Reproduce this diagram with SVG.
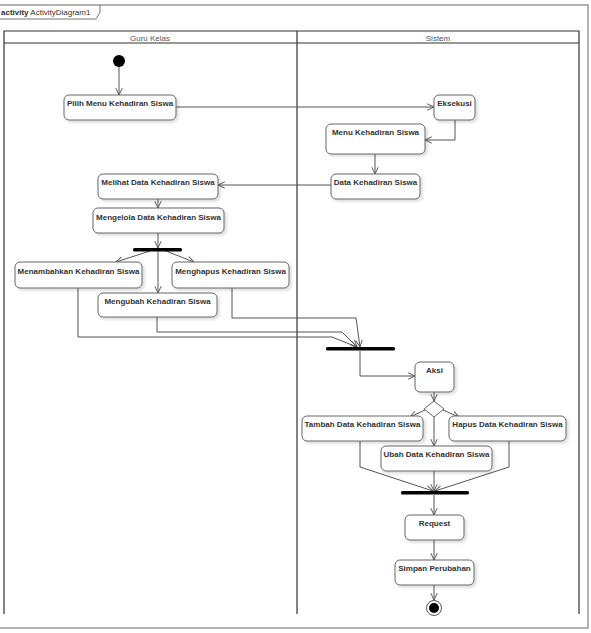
<svg xmlns="http://www.w3.org/2000/svg" width="591" height="633" viewBox="0 0 591 633">
<defs>
<marker id="arr" viewBox="0 0 10 10" refX="9.5" refY="5" markerWidth="8" markerHeight="8" markerUnits="userSpaceOnUse" orient="auto">
<path d="M1,1 L9.5,5 L1,9" fill="none" stroke="#555" stroke-width="1.2"/>
</marker>
<filter id="sh" x="-10%" y="-20%" width="130%" height="160%">
<feDropShadow dx="2" dy="2" stdDeviation="1.5" flood-color="#000" flood-opacity="0.15"/>
</filter>
</defs>
<style>
.box{fill:#fff;stroke:#666;stroke-width:1;filter:url(#sh)}
.lbl{font-family:"Liberation Sans",Arial,sans-serif;font-weight:bold;font-size:8px;fill:#333;text-anchor:middle}
.hdr{font-family:"Liberation Sans",Arial,sans-serif;font-size:8px;fill:#555;text-anchor:middle}
.con{fill:none;stroke:#555;stroke-width:1}
.lane{fill:none;stroke:#333;stroke-width:1.2}
.bar{fill:#000}
</style>
<rect x="0" y="0" width="591" height="633" fill="#fff"/>
<g id="frame">
<path d="M-1,5 H588 V628 H-1" fill="none" stroke="#999" stroke-width="1.5"/>
<path d="M-1,19 H96 L100,12 V5" fill="none" stroke="#777" stroke-width="1"/>
<text x="1" y="15" font-family="'Liberation Sans',Arial,sans-serif" font-size="8" fill="#333"><tspan font-weight="bold">activity</tspan> ActivityDiagram1</text>
</g>
<g id="lanes">
<path class="lane" d="M4,614 V31 H579 V614 M297,31 V614 M4,43 H579"/>
<text class="hdr" x="150" y="40.5">Guru Kelas</text>
<text class="hdr" x="438" y="40.5">Sistem</text>
</g>
<g id="connectors">
<path class="con" marker-end="url(#arr)" d="M119,67 V95"/>
<path class="con" marker-end="url(#arr)" d="M176,107 H434"/>
<path class="con" marker-end="url(#arr)" d="M455,120 V140 H425"/>
<path class="con" marker-end="url(#arr)" d="M375,154 V174"/>
<path class="con" marker-end="url(#arr)" d="M331,185 H218"/>
<path class="con" marker-end="url(#arr)" d="M158,199 V208"/>
<path class="con" marker-end="url(#arr)" d="M158,233 V248"/>
<path class="con" marker-end="url(#arr)" d="M150,251 L116,262"/>
<path class="con" marker-end="url(#arr)" d="M158,251 V293"/>
<path class="con" marker-end="url(#arr)" d="M166,251 L194,262"/>
<path class="con" marker-end="url(#arr)" d="M78,288 V337 H332 L357,347"/>
<path class="con" marker-end="url(#arr)" d="M157,317 V332 H342 L357,347"/>
<path class="con" marker-end="url(#arr)" d="M232,288 V318 H356 L360,347"/>
<path class="con" marker-end="url(#arr)" d="M360,351 V376 H415"/>
<path class="con" marker-end="url(#arr)" d="M434,392 V401"/>
<path class="con" marker-end="url(#arr)" d="M425,410 L410,417"/>
<path class="con" marker-end="url(#arr)" d="M434,417 V446"/>
<path class="con" marker-end="url(#arr)" d="M443,410 L459,417"/>
<path class="con" marker-end="url(#arr)" d="M360,441 V467 L433,491"/>
<path class="con" marker-end="url(#arr)" d="M434,471 V491"/>
<path class="con" marker-end="url(#arr)" d="M509,441 V467 L435,491"/>
<path class="con" marker-end="url(#arr)" d="M434,495 V515"/>
<path class="con" marker-end="url(#arr)" d="M434,540 V560"/>
<path class="con" marker-end="url(#arr)" d="M434,585 V600"/>
</g>
<g id="initial"><circle cx="119" cy="61" r="6" fill="#000"/></g>
<g id="pilih"><rect class="box" x="64" y="95" width="112" height="25" rx="5"/><text class="lbl" x="120" y="106">Pilih Menu Kehadiran Siswa</text></g>
<g id="eksekusi"><rect class="box" x="434" y="95" width="41" height="25" rx="5"/><text class="lbl" x="454.5" y="106">Eksekusi</text></g>
<g id="menu"><rect class="box" x="326" y="124" width="99" height="30" rx="5"/><text class="lbl" x="375.5" y="135">Menu Kehadiran Siswa</text></g>
<g id="data"><rect class="box" x="331" y="174" width="89" height="25" rx="5"/><text class="lbl" x="375.5" y="185">Data Kehadiran Siswa</text></g>
<g id="melihat"><rect class="box" x="98" y="174" width="120" height="25" rx="5"/><text class="lbl" x="158" y="185">Melihat Data Kehadiran Siswa</text></g>
<g id="mengelola"><rect class="box" x="93" y="208" width="131" height="25" rx="5"/><text class="lbl" x="158.5" y="220">Mengelola Data Kehadiran Siswa</text></g>
<g id="fork1"><rect class="bar" x="133" y="248" width="49" height="3.5" rx="1.5"/></g>
<g id="menambahkan"><rect class="box" x="15" y="262" width="127" height="26" rx="5"/><text class="lbl" x="78.5" y="274">Menambahkan Kehadiran Siswa</text></g>
<g id="menghapus"><rect class="box" x="172" y="262" width="117" height="26" rx="5"/><text class="lbl" x="230.5" y="274">Menghapus Kehadiran Siswa</text></g>
<g id="mengubah"><rect class="box" x="98" y="293" width="119" height="24" rx="5"/><text class="lbl" x="157.5" y="304">Mengubah Kehadiran Siswa</text></g>
<g id="join1"><rect class="bar" x="326" y="347" width="69" height="3.5" rx="1.5"/></g>
<g id="aksi"><rect class="box" x="415" y="362" width="39" height="30" rx="5"/><text class="lbl" x="434.5" y="373">Aksi</text></g>
<g id="decision"><path d="M434,401 L444,409 L434,417 L424,409 Z" fill="#fff" stroke="#666"/></g>
<g id="tambah"><rect class="box" x="302" y="416" width="121" height="25" rx="5"/><text class="lbl" x="362.5" y="427">Tambah Data Kehadiran Siswa</text></g>
<g id="hapus"><rect class="box" x="449" y="416" width="117" height="25" rx="5"/><text class="lbl" x="507.5" y="427">Hapus Data Kehadiran Siswa</text></g>
<g id="ubah"><rect class="box" x="381" y="446" width="111" height="25" rx="5"/><text class="lbl" x="436.5" y="457">Ubah Data Kehadiran Siswa</text></g>
<g id="join2"><rect class="bar" x="401" y="491" width="68" height="3.5" rx="1.5"/></g>
<g id="request"><rect class="box" x="405" y="515" width="59" height="25" rx="5"/><text class="lbl" x="434.5" y="526">Request</text></g>
<g id="simpan"><rect class="box" x="395" y="560" width="79" height="25" rx="5"/><text class="lbl" x="434.5" y="571">Simpan Perubahan</text></g>
<g id="final"><circle cx="434" cy="608" r="7.5" fill="#fff" stroke="#555"/><circle cx="434" cy="608" r="5" fill="#000"/></g>
</svg>
